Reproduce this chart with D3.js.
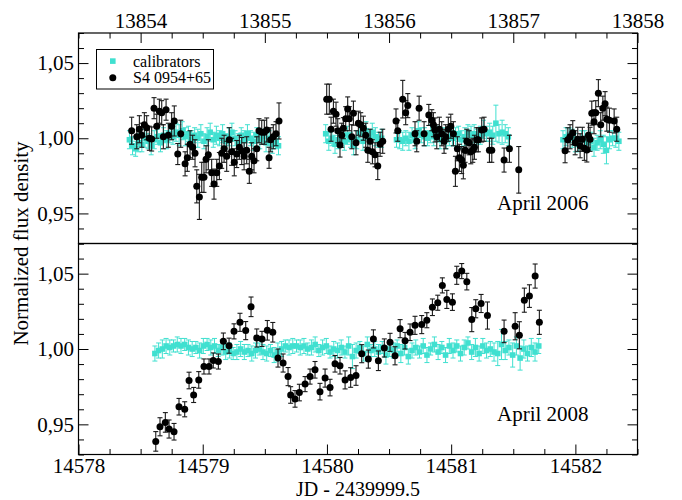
<!DOCTYPE html>
<html>
<head>
<meta charset="utf-8">
<script src="https://cdn.jsdelivr.net/npm/d3@7"></script>
<style>
  body { margin: 0; background: #fff; }
  text { font-family: "Liberation Serif", "Times New Roman", serif; }
</style>
</head>
<body>
<svg id="chart" width="682" height="500"></svg>
<script>
// ---------------- data ----------------
const xTicks2006 = [13854, 13855, 13856, 13857, 13858];
const xTicks2008 = [14578, 14579, 14580, 14581, 14582];
const yTicks = [0.95, 1.00, 1.05];
const yTickLabels = ["0,95", "1,00", "1,05"];
const legendLabels = ["calibrators", "S4 0954+65"];
const panelLabels = ["April 2006", "April 2008"];
const xTitle = "JD - 2439999.5";
const yTitle = "Normalized flux density";

// S4 0954+65, April 2006
const src2006Jd = [
  13853.928,13853.969,13853.990,13854.009,13854.030,13854.049,13854.070,13854.089,13854.108,13854.130,
  13854.151,13854.170,13854.183,13854.205,13854.223,13854.250,13854.271,13854.299,13854.323,13854.358,
  13854.376,13854.398,13854.419,13854.438,13854.452,13854.473,13854.492,13854.510,13854.527,13854.545,
  13854.572,13854.591,13854.613,13854.634,13854.653,13854.672,13854.693,13854.714,13854.733,13854.754,
  13854.774,13854.795,13854.814,13854.833,13854.854,13854.875,13854.894,13854.913,13854.935,13854.953,
  13854.975,13854.996,13855.015,13855.034,13855.047,13855.068,13855.090,13855.114,
  13855.498,13855.519,13855.533,13855.552,13855.573,13855.587,13855.605,13855.619,13855.632,13855.651,
  13855.667,13855.680,13855.700,13855.713,13855.734,13855.753,13855.772,13855.793,13855.812,13855.829,
  13855.847,13855.866,13855.887,13855.909,13855.928,13855.949,
  13856.056,13856.070,13856.110,13856.134,13856.151,13856.209,13856.223,13856.242,13856.282,13856.320,
  13856.344,13856.357,13856.370,13856.384,13856.405,13856.424,13856.443,13856.456,13856.477,13856.497,
  13856.518,13856.534,13856.550,13856.566,13856.585,13856.598,13856.612,13856.626,13856.644,13856.658,
  13856.674,13856.687,13856.706,13856.719,13856.746,13856.765,13856.808,13856.827,13856.926,13856.969,13857.044,
  13857.417,13857.439,13857.457,13857.479,13857.498,13857.519,13857.538,13857.556,13857.572,13857.592,
  13857.605,13857.618,13857.632,13857.650,13857.664,13857.685,13857.704,13857.721,13857.739,13857.753,
  13857.774,13857.812,13857.833
];
const src2006Flux = [
  1.005,1.001,1.006,1.002,1.009,1.007,1.000,0.9995,1.020,1.008,
  1.018,1.017,1.001,1.019,1.002,1.008,1.0115,0.9895,1.003,0.983,
  0.987,0.996,0.994,0.990,0.968,0.961,0.974,0.974,0.986,0.989,
  0.977,0.9695,0.977,0.9815,0.990,0.993,0.988,0.999,0.991,0.984,
  0.9895,0.994,0.9915,0.988,0.992,0.978,0.988,0.985,0.993,1.005,
  1.004,1.004,1.0055,0.987,0.999,1.001,1.003,1.0115,
  1.026,1.026,1.006,1.018,1.016,1.005,0.9955,1.002,1.0067,1.013,
  1.0195,1.013,1.001,1.0167,0.997,1.010,1.009,1.0067,1.002,0.992,
  0.998,0.991,0.989,0.9815,0.996,0.998,
  1.0115,1.005,1.026,1.017,1.0217,1.003,0.998,1.020,1.003,1.0155,
  1.012,1.009,1.0055,1.001,1.006,1.003,0.998,1.001,1.006,1.008,
  1.003,0.978,0.993,0.987,0.9855,0.982,0.992,0.998,0.997,0.991,
  0.992,0.994,0.999,0.999,1.0055,1.006,0.992,0.992,0.9855,0.993,0.979,
  0.9917,0.999,1.001,1.0037,0.997,0.9993,0.995,0.9993,0.9933,0.9922,
  1.002,0.9993,1.0167,1.011,1.017,1.030,1.009,1.020,1.023,1.0127,
  1.012,1.0115,1.006
];
const src2006Err = [
  0.009,0.008,0.009,0.008,0.008,0.008,0.008,0.008,0.007,0.008,
  0.008,0.008,0.008,0.007,0.008,0.009,0.010,0.007,0.009,0.008,
  0.009,0.009,0.008,0.009,0.011,0.015,0.010,0.010,0.009,0.010,
  0.009,0.010,0.009,0.009,0.010,0.009,0.010,0.008,0.009,0.009,
  0.009,0.008,0.009,0.009,0.009,0.008,0.009,0.008,0.008,0.008,
  0.008,0.008,0.008,0.007,0.008,0.008,0.008,0.012,
  0.010,0.010,0.008,0.008,0.008,0.008,0.008,0.008,0.007,0.008,
  0.008,0.008,0.008,0.008,0.008,0.008,0.008,0.008,0.008,0.008,
  0.008,0.008,0.008,0.009,0.008,0.008,
  0.008,0.007,0.0125,0.008,0.008,0.008,0.007,0.008,0.008,0.007,
  0.007,0.008,0.008,0.008,0.008,0.008,0.008,0.008,0.008,0.008,
  0.008,0.010,0.008,0.009,0.009,0.009,0.008,0.008,0.008,0.008,
  0.008,0.008,0.008,0.008,0.008,0.008,0.008,0.008,0.008,0.009,0.0155,
  0.008,0.008,0.008,0.008,0.008,0.008,0.008,0.008,0.008,0.008,
  0.008,0.008,0.008,0.008,0.008,0.009,0.008,0.008,0.008,0.008,
  0.008,0.008,0.008
];

// calibrators, April 2006
const cal2006Jd = [
  13853.910,13853.935,13853.960,13853.985,13854.010,13854.035,13854.060,13854.085,13854.110,13854.135,
  13854.160,13854.185,13854.210,13854.235,13854.260,13854.285,13854.310,13854.335,13854.360,13854.385,
  13854.410,13854.435,13854.460,13854.485,13854.510,13854.535,13854.560,13854.585,13854.610,13854.635,
  13854.660,13854.685,13854.710,13854.735,13854.760,13854.785,13854.810,13854.835,13854.860,13854.885,
  13854.910,13854.935,13854.960,13854.985,13855.010,13855.035,13855.060,13855.085,13855.110,
  13855.490,13855.515,13855.540,13855.565,13855.590,13855.615,13855.640,13855.665,13855.690,13855.715,
  13855.740,13855.765,13855.790,13855.815,13855.840,13855.865,13855.890,13855.915,13855.940,
  13856.060,13856.085,13856.110,13856.135,13856.160,13856.185,13856.210,13856.235,13856.260,13856.285,
  13856.310,13856.335,13856.360,13856.385,13856.410,13856.435,13856.460,13856.485,13856.510,13856.535,
  13856.560,13856.585,13856.610,13856.635,13856.660,13856.685,13856.710,13856.735,13856.760,13856.785,
  13856.810,13856.835,13856.860,13856.885,13856.910,13856.935,13856.960,
  13857.400,13857.425,13857.450,13857.475,13857.500,13857.525,13857.550,13857.575,13857.600,13857.625,
  13857.650,13857.675,13857.700,13857.725,13857.750,13857.775,13857.800,13857.825,13857.850
];
const cal2006Flux = [
  0.999,0.995,0.993,0.997,0.996,1.000,0.998,0.995,0.999,1.001,
  0.997,1.002,0.999,1.003,1.001,1.004,1.002,1.005,1.001,1.003,
  0.999,1.002,1.000,1.003,0.998,1.001,1.004,0.999,1.002,1.000,
  1.003,0.998,1.001,1.004,1.000,0.997,1.002,0.999,1.003,1.000,
  0.998,1.002,0.999,1.001,0.997,1.000,0.996,0.998,0.995,
  1.003,0.998,1.000,0.996,0.999,1.000,0.998,1.002,0.999,0.995,
  0.999,1.003,0.998,1.005,1.001,1.004,1.001,0.999,1.000,
  0.999,0.999,0.998,1.000,0.998,1.002,0.999,1.005,1.002,1.001,
  1.000,1.003,1.001,1.003,0.999,1.002,0.999,1.001,1.000,1.001,
  1.003,0.999,1.001,1.004,1.002,1.003,1.001,1.002,1.006,1.003,
  1.004,1.002,1.010,1.003,1.004,1.003,1.001,
  0.999,1.001,1.002,1.000,0.997,0.996,0.999,0.999,0.997,0.998,
  0.994,0.997,0.999,0.996,0.992,0.999,1.000,1.000,0.998
];
const cal2006Err = [
  0.006,0.006,0.005,0.006,0.005,0.006,0.005,0.006,0.006,0.005,
  0.006,0.005,0.006,0.006,0.005,0.006,0.007,0.006,0.006,0.005,
  0.006,0.005,0.006,0.006,0.005,0.006,0.006,0.005,0.006,0.005,
  0.006,0.005,0.006,0.006,0.005,0.006,0.005,0.006,0.006,0.005,
  0.006,0.005,0.006,0.005,0.006,0.005,0.006,0.005,0.006,
  0.006,0.006,0.005,0.006,0.006,0.005,0.006,0.006,0.005,0.006,
  0.006,0.005,0.006,0.006,0.005,0.006,0.006,0.005,0.006,
  0.005,0.006,0.006,0.005,0.006,0.005,0.006,0.006,0.005,0.006,
  0.005,0.006,0.006,0.005,0.006,0.005,0.006,0.006,0.005,0.006,
  0.005,0.006,0.006,0.005,0.006,0.006,0.005,0.006,0.006,0.005,
  0.006,0.006,0.012,0.006,0.008,0.006,0.006,
  0.006,0.006,0.005,0.006,0.006,0.005,0.006,0.006,0.005,0.006,
  0.006,0.005,0.006,0.006,0.009,0.006,0.005,0.006,0.006
];

// S4 0954+65, April 2008
const src2008Jd = [
  14578.622,14578.656,14578.699,14578.729,14578.769,14578.809,14578.855,14578.890,14578.927,14578.968,
  14579.010,14579.051,14579.085,14579.126,14579.166,14579.212,14579.252,14579.300,14579.346,14579.389,
  14579.435,14579.477,14579.520,14579.564,14579.606,14579.647,14579.687,14579.708,14579.743,14579.778,
  14579.824,14579.864,14579.904,14579.944,14579.985,14580.025,14580.065,14580.105,14580.146,14580.191,
  14580.234,14580.280,14580.333,14580.374,14580.414,14580.462,14580.508,14580.548,14580.589,14580.629,
  14580.669,14580.709,14580.763,14580.804,14580.849,14580.892,14580.929,14580.965,14581.010,14581.045,
  14581.085,14581.126,14581.166,14581.198,14581.241,14581.292,14581.426,14581.515,14581.549,14581.589,
  14581.630,14581.676,14581.710
];
const src2008Flux = [
  0.9387,0.9484,0.9513,0.9469,0.9451,0.9617,0.9600,0.9791,0.9695,0.9795,
  0.9884,0.9884,0.9924,0.9917,1.0051,1.0022,1.0117,1.0177,1.0122,1.0280,
  1.0073,1.0067,1.0124,1.0111,0.9940,0.9907,0.9817,0.9695,0.9669,0.9711,
  0.9767,0.9817,0.9862,0.9717,0.9807,0.9744,0.9902,0.9889,0.9795,0.9811,
  0.9824,0.9969,0.9933,1.0067,0.9922,1.0007,1.0044,0.9955,1.0135,1.0055,
  1.0111,1.0157,1.0162,1.0191,1.0277,1.0307,1.0422,1.0329,1.0311,1.0489,
  1.0517,1.0447,1.0195,1.0267,1.0302,1.0222,1.0117,1.0151,1.0091,1.0324,
  1.0351,1.0484,1.0177
];
const src2008Err = [
  0.0065,0.006,0.0065,0.006,0.0055,0.0055,0.005,0.0055,0.005,0.0055,
  0.005,0.005,0.005,0.005,0.0055,0.005,0.005,0.006,0.006,0.0065,
  0.006,0.005,0.0065,0.0065,0.006,0.006,0.006,0.0055,0.0055,0.0055,
  0.005,0.005,0.0055,0.0055,0.006,0.0055,0.0055,0.0055,0.006,0.0065,
  0.0065,0.006,0.006,0.006,0.0065,0.006,0.006,0.006,0.006,0.0055,
  0.0055,0.006,0.006,0.005,0.0055,0.005,0.005,0.006,0.0055,0.006,
  0.005,0.0055,0.008,0.006,0.006,0.009,0.0075,0.009,0.009,0.008,
  0.0075,0.008,0.008
];

// calibrators, April 2008
const cal2008Jd = [
  14578.615,14578.645,14578.675,14578.705,14578.735,14578.765,14578.795,14578.825,14578.855,14578.885,
  14578.915,14578.945,14578.975,14579.005,14579.035,14579.065,14579.095,14579.125,14579.155,14579.185,
  14579.215,14579.245,14579.275,14579.305,14579.335,14579.365,14579.395,14579.425,14579.455,14579.485,
  14579.515,14579.545,14579.575,14579.605,14579.635,14579.665,14579.695,14579.725,14579.755,14579.785,
  14579.815,14579.845,14579.875,14579.905,14579.935,14579.965,14579.995,14580.025,14580.055,14580.085,
  14580.115,14580.145,14580.175,14580.205,14580.235,14580.265,14580.295,14580.325,14580.355,14580.385,
  14580.415,14580.445,14580.475,14580.505,14580.535,14580.565,14580.595,14580.625,14580.655,14580.685,
  14580.715,14580.745,14580.775,14580.805,14580.835,14580.865,14580.895,14580.925,14580.955,14580.985,
  14581.015,14581.045,14581.075,14581.105,14581.135,14581.165,14581.195,14581.225,14581.255,14581.285,
  14581.315,14581.345,14581.375,14581.405,14581.435,14581.465,14581.495,14581.525,14581.555,14581.585,
  14581.615,14581.645,14581.675,14581.705
];
const cal2008Flux = [
  0.997,0.999,1.000,1.002,1.001,1.002,1.003,1.002,1.003,1.001,
  1.000,1.001,0.999,1.002,1.003,1.001,1.002,0.999,1.001,0.998,
  0.999,0.997,0.998,1.000,0.998,0.999,0.997,0.999,1.000,0.998,
  0.997,0.999,0.996,0.998,1.000,1.002,1.001,1.002,1.002,1.001,
  1.002,1.000,1.001,1.003,0.999,1.001,1.002,0.998,1.000,0.999,
  1.001,0.998,1.002,0.995,0.999,1.001,0.997,1.003,0.999,1.000,
  0.998,1.001,0.996,1.000,0.999,1.002,0.997,1.001,0.995,0.999,
  1.001,0.998,1.002,0.996,1.000,1.003,0.998,1.001,0.996,1.002,
  0.999,1.002,0.997,1.001,1.004,0.998,1.001,0.997,1.002,0.999,
  1.000,0.998,0.997,1.003,0.999,1.001,0.996,1.002,0.994,1.000,
  0.997,1.001,0.998,1.002
];
const cal2008Err = [
  0.005,0.005,0.006,0.005,0.005,0.004,0.005,0.005,0.004,0.005,
  0.005,0.004,0.005,0.005,0.004,0.005,0.005,0.004,0.005,0.005,
  0.005,0.004,0.005,0.005,0.005,0.004,0.005,0.005,0.004,0.005,
  0.005,0.004,0.005,0.006,0.005,0.004,0.005,0.005,0.004,0.005,
  0.005,0.004,0.005,0.005,0.004,0.005,0.005,0.004,0.005,0.005,
  0.005,0.004,0.006,0.008,0.005,0.004,0.005,0.005,0.004,0.005,
  0.005,0.004,0.006,0.005,0.005,0.004,0.006,0.005,0.005,0.005,
  0.005,0.004,0.005,0.005,0.004,0.005,0.005,0.004,0.005,0.005,
  0.005,0.004,0.005,0.005,0.004,0.005,0.006,0.005,0.005,0.005,
  0.005,0.006,0.008,0.010,0.006,0.005,0.008,0.006,0.008,0.006,
  0.005,0.006,0.006,0.005
];

// ---------------- layout ----------------
const svg = d3.select("#chart");
const left = 78.5, right = 637.5;
const topPanel = { y0: 33, y1: 243.5 };
const botPanel = { y0: 243.5, y1: 454.5 };
const cyan = "#40e0d0";
const fontBig = 21;

const x2006 = d3.scaleLinear().domain([13853.5, 13858]).range([left, right]);
const x2008 = d3.scaleLinear().domain([14578, 14582.5]).range([left, right]);
const yTop = d3.scaleLinear().domain([0.93, 1.07]).range([topPanel.y1, topPanel.y0]);
const yBot = d3.scaleLinear().domain([0.93, 1.07]).range([botPanel.y1, botPanel.y0]);

function zip(jd, flux, err) {
  return jd.map((d, i) => ({ x: d, y: flux[i], e: err[i] }));
}

// quarter-day minor ticks, skipping whole days
function quarterTicks(scale) {
  const [a, b] = scale.domain();
  const out = [];
  for (let t = Math.ceil(a * 4) / 4; t <= b + 1e-9; t += 0.25) out.push(+t.toFixed(2));
  return out.filter(t => Math.abs(t - Math.round(t)) > 1e-6);
}
// 0.01 minor ticks on the flux axis, skipping the labelled ones
const yMinor = d3.range(93, 108).map(v => v / 100).filter(v => Math.abs(v * 20 - Math.round(v * 20)) > 1e-6);

function styleAxis(g) {
  g.select(".domain").remove();
  g.selectAll(".tick line").attr("stroke", "#000").attr("stroke-width", 1);
  g.selectAll(".tick text")
    .attr("fill", "#000")
    .style("font-family", '"Liberation Serif", "Times New Roman", serif')
    .style("font-size", fontBig + "px");
}

function drawPanel(xs, ys, panel, calData, srcData, xTicks, topLabels) {
  const g = svg.append("g");

  // x axes (top and bottom), ticks pointing inward
  const xTop = g.append("g").attr("transform", `translate(0,${panel.y0})`)
    .call(d3.axisTop(xs).tickValues(xTicks).tickSize(-10).tickPadding(5)
      .tickFormat(topLabels ? d3.format("d") : () => ""));
  styleAxis(xTop);
  const xTopMinor = g.append("g").attr("transform", `translate(0,${panel.y0})`)
    .call(d3.axisTop(xs).tickValues(quarterTicks(xs)).tickSize(-5.5).tickFormat(() => ""));
  styleAxis(xTopMinor);

  const xBot = g.append("g").attr("transform", `translate(0,${panel.y1})`)
    .call(d3.axisBottom(xs).tickValues(xTicks).tickSize(-10).tickPadding(3.5)
      .tickFormat(topLabels ? () => "" : d3.format("d")));
  styleAxis(xBot);
  const xBotMinor = g.append("g").attr("transform", `translate(0,${panel.y1})`)
    .call(d3.axisBottom(xs).tickValues(quarterTicks(xs)).tickSize(-5.5).tickFormat(() => ""));
  styleAxis(xBotMinor);

  // the shared border between panels carries no ticks
  if (topLabels) { xBot.selectAll(".tick line").remove(); xBotMinor.remove(); }
  else { xTop.selectAll(".tick line").remove(); xTopMinor.remove(); }

  // y axes (left with labels, right ticks only)
  const yl = g.append("g").attr("transform", `translate(${left},0)`)
    .call(d3.axisLeft(ys).tickValues(yTicks).tickSize(-10).tickPadding(4.5)
      .tickFormat((d, i) => yTickLabels[i]));
  styleAxis(yl);
  styleAxis(g.append("g").attr("transform", `translate(${left},0)`)
    .call(d3.axisLeft(ys).tickValues(yMinor).tickSize(-5.5).tickFormat(() => "")));
  styleAxis(g.append("g").attr("transform", `translate(${right},0)`)
    .call(d3.axisRight(ys).tickValues(yTicks).tickSize(-10).tickFormat(() => "")));
  styleAxis(g.append("g").attr("transform", `translate(${right},0)`)
    .call(d3.axisRight(ys).tickValues(yMinor).tickSize(-5.5).tickFormat(() => "")));

  // calibrators: turquoise squares with error bars
  const cal = g.append("g");
  const calBars = cal.selectAll("g.eb").data(calData).join("g").attr("class", "eb")
    .attr("stroke", cyan).attr("stroke-width", 1);
  calBars.append("line")
    .attr("x1", d => xs(d.x)).attr("x2", d => xs(d.x))
    .attr("y1", d => ys(d.y - d.e)).attr("y2", d => ys(d.y + d.e));
  calBars.append("line")
    .attr("x1", d => xs(d.x) - 2.5).attr("x2", d => xs(d.x) + 2.5)
    .attr("y1", d => ys(d.y + d.e)).attr("y2", d => ys(d.y + d.e));
  calBars.append("line")
    .attr("x1", d => xs(d.x) - 2.5).attr("x2", d => xs(d.x) + 2.5)
    .attr("y1", d => ys(d.y - d.e)).attr("y2", d => ys(d.y - d.e));
  cal.selectAll("rect").data(calData).join("rect")
    .attr("x", d => xs(d.x) - 2.8).attr("y", d => ys(d.y) - 2.8)
    .attr("width", 5.6).attr("height", 5.6).attr("fill", cyan);

  // source: black circles with error bars
  const src = g.append("g");
  const srcBars = src.selectAll("g.eb").data(srcData).join("g").attr("class", "eb")
    .attr("stroke", "#1a1a1a").attr("stroke-width", 1.1);
  srcBars.append("line")
    .attr("x1", d => xs(d.x)).attr("x2", d => xs(d.x))
    .attr("y1", d => ys(d.y - d.e)).attr("y2", d => ys(d.y + d.e));
  srcBars.append("line")
    .attr("x1", d => xs(d.x) - 2.5).attr("x2", d => xs(d.x) + 2.5)
    .attr("y1", d => ys(d.y + d.e)).attr("y2", d => ys(d.y + d.e));
  srcBars.append("line")
    .attr("x1", d => xs(d.x) - 2.5).attr("x2", d => xs(d.x) + 2.5)
    .attr("y1", d => ys(d.y - d.e)).attr("y2", d => ys(d.y - d.e));
  src.selectAll("circle").data(srcData).join("circle")
    .attr("cx", d => xs(d.x)).attr("cy", d => ys(d.y)).attr("r", 3.5).attr("fill", "#000");

  // frame
  g.append("rect")
    .attr("x", left).attr("y", panel.y0)
    .attr("width", right - left).attr("height", panel.y1 - panel.y0)
    .attr("fill", "none").attr("stroke", "#000").attr("stroke-width", 1.2);
}

drawPanel(x2006, yTop, topPanel, zip(cal2006Jd, cal2006Flux, cal2006Err),
  zip(src2006Jd, src2006Flux, src2006Err), xTicks2006, true);
drawPanel(x2008, yBot, botPanel, zip(cal2008Jd, cal2008Flux, cal2008Err),
  zip(src2008Jd, src2008Flux, src2008Err), xTicks2008, false);

// panel captions
svg.append("text").attr("x", 497).attr("y", 210).attr("font-size", fontBig).text(panelLabels[0]);
svg.append("text").attr("x", 497).attr("y", 421).attr("font-size", fontBig).text(panelLabels[1]);

// axis titles
svg.append("text").attr("x", (left + right) / 2).attr("y", 495.5)
  .attr("text-anchor", "middle").attr("font-size", 20).text(xTitle);
svg.append("text").attr("transform", `translate(28,${botPanel.y0}) rotate(-90)`)
  .attr("text-anchor", "middle").attr("font-size", fontBig).text(yTitle);

// legend
const lg = svg.append("g");
lg.append("rect").attr("x", 96.5).attr("y", 49.5).attr("width", 117).attr("height", 39.5)
  .attr("fill", "#fff").attr("stroke", "#000").attr("stroke-width", 1);
lg.append("rect").attr("x", 110).attr("y", 58.3).attr("width", 5.6).attr("height", 5.6).attr("fill", cyan);
lg.append("circle").attr("cx", 112.8).attr("cy", 77.7).attr("r", 3.5).attr("fill", "#000");
lg.append("text").attr("x", 133).attr("y", 66.5).attr("font-size", 16).text(legendLabels[0]);
lg.append("text").attr("x", 133).attr("y", 83).attr("font-size", 16).text(legendLabels[1]);
</script>
</body>
</html>
